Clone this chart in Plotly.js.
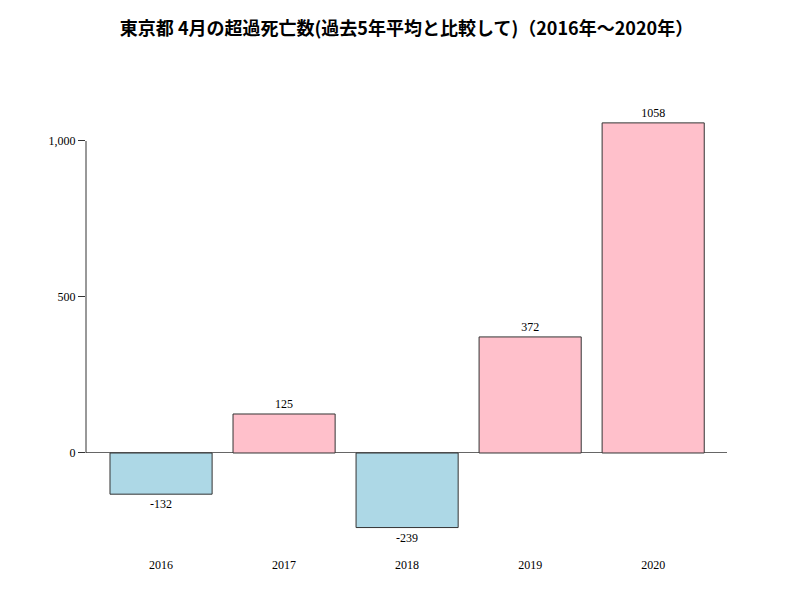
<!DOCTYPE html>
<html>
<head>
<meta charset="utf-8">
<script src="https://cdn.plot.ly/plotly-3.0.1.min.js"></script>
<style>html,body{margin:0;padding:0;background:#fff;}</style>
</head>
<body>
<div id="chart" style="width:800px;height:600px;"></div>
<script>
const years = ["2016", "2017", "2018", "2019", "2020"];
const excessDeaths = [-132, 125, -239, 372, 1058];
const yTickVals = [0, 500, 1000];
const yTickText = ["0", "500", "1,000"];
const titleText = "東京都 4月の超過死亡数(過去5年平均と比較して)（2016年～2020年）";

const colors = excessDeaths.map(v => v >= 0 ? "#FFC0CB" : "#ADD8E6");
const serif = "Liberation Serif, Times New Roman, serif";

const trace = {
  type: "bar",
  x: years,
  y: excessDeaths,
  marker: {color: colors, line: {color: "#333333", width: 1}},
  width: 0.83,
  text: excessDeaths.map(String),
  textposition: "outside",
  cliponaxis: false,
  textfont: {family: serif, size: 12, color: "#000"},
  hoverinfo: "none"
};

const layout = {
  width: 800, height: 600,
  paper_bgcolor: "#fff", plot_bgcolor: "#fff",
  margin: {l: 86, r: 73, t: 94, b: 54},
  showlegend: false,
  title: {
    text: titleText,
    font: {family: "Noto Sans CJK JP", size: 18, color: "#000", weight: "bold"},
    x: 0.5, xref: "paper", y: 0.953, yref: "container", xanchor: "center", yanchor: "middle"
  },
  xaxis: {
    type: "category",
    range: [-0.61, 4.60],
    showline: false, showgrid: false, zeroline: false,
    ticks: "outside", ticklen: 8, tickcolor: "rgba(0,0,0,0)",
    tickfont: {family: serif, size: 12, color: "#000"}
  },
  yaxis: {
    range: [-298.1, 1150.6],
    tickvals: yTickVals, ticktext: yTickText,
    ticks: "outside", ticklen: 7, tickcolor: "#333", tickwidth: 1,
    showline: false, showgrid: false,
    zeroline: true, zerolinecolor: "#666", zerolinewidth: 1,
    tickfont: {family: serif, size: 12, color: "#000"}
  },
  shapes: [{
    type: "line", xref: "paper", yref: "y",
    x0: 0, x1: 0, y0: yTickVals[0], y1: yTickVals[yTickVals.length - 1],
    line: {color: "#333", width: 1}
  }],
  bargap: 0.17
};

Plotly.newPlot("chart", [trace], layout, {displayModeBar: false, staticPlot: true});
</script>
</body>
</html>
